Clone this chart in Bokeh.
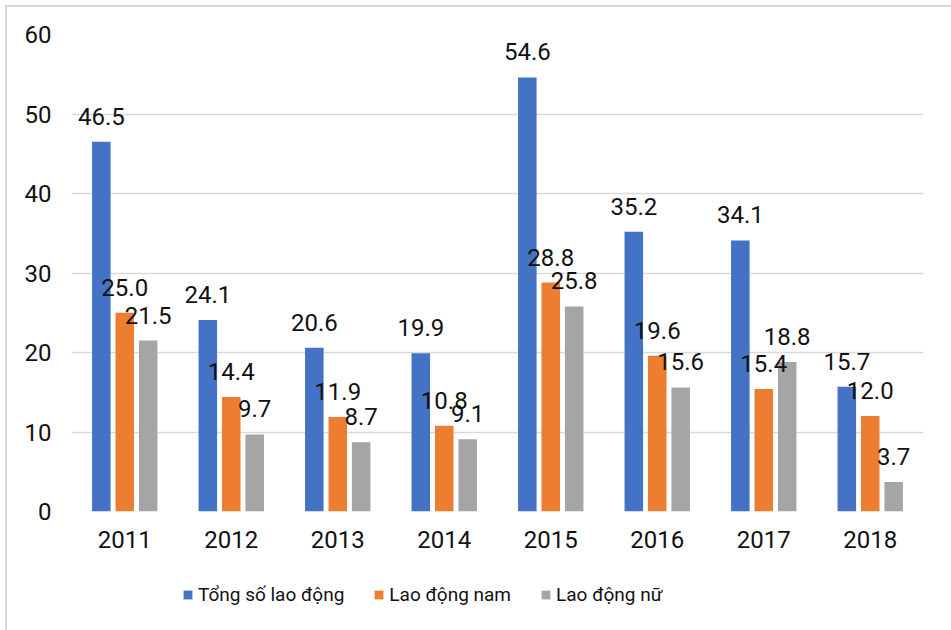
from bokeh.plotting import figure
from bokeh.models import ColumnDataSource, LabelSet, Legend, LegendItem, FactorRange
from bokeh.layouts import column
from bokeh.transform import dodge
from bokeh.core.properties import value
from bokeh.embed import file_html
from bokeh.resources import INLINE

years = ["2011", "2012", "2013", "2014", "2015", "2016", "2017", "2018"]
tong_so = [46.5, 24.1, 20.6, 19.9, 54.6, 35.2, 34.1, 15.7]
nam = [25.0, 14.4, 11.9, 10.8, 28.8, 19.6, 15.4, 12.0]
nu = [21.5, 9.7, 8.7, 9.1, 25.8, 15.6, 18.8, 3.7]
series_names = ["Tổng số lao động", "Lao động nam", "Lao động nữ"]
y_ticks = [0, 10, 20, 30, 40, 50, 60]

colors = ["#4472C4", "#ED7D31", "#A5A5A5"]
FONT = "Roboto"
FS = "24px"
TXT = "#111111"

source = ColumnDataSource(dict(
    year=years,
    tong=tong_so, nam=nam, nu=nu,
    tong_lbl=[f"{v:.1f}" for v in tong_so],
    nam_lbl=[f"{v:.1f}" for v in nam],
    nu_lbl=[f"{v:.1f}" for v in nu],
))

p = figure(
    x_range=FactorRange(*years, range_padding=0),
    y_range=(0, 60),
    width=944, height=560,
    output_backend="svg", toolbar_location=None,
    min_border_left=64, min_border_right=28,
    min_border_top=27, min_border_bottom=56,
    outline_line_color=None,
    background_fill_color="white", border_fill_color="white",
)

offset = 0.22
width = 0.174
fields = ["tong", "nam", "nu"]
for i, (f, c) in enumerate(zip(fields, colors)):
    p.vbar(x=dodge("year", (i - 1) * offset, range=p.x_range), top=f,
           width=width, source=source, fill_color=c, line_color=None)
    labels = LabelSet(x=dodge("year", (i - 1) * offset, range=p.x_range), y=f,
                      text=f + "_lbl", source=source, text_align="center",
                      text_baseline="alphabetic", y_offset=17,
                      text_font=value(FONT), text_font_size=FS, text_color=TXT)
    p.add_layout(labels)

# axes
p.yaxis.ticker = y_ticks
p.yaxis.axis_line_color = None
p.yaxis.major_tick_line_color = None
p.yaxis.minor_tick_line_color = None
p.yaxis.major_label_standoff = 14
p.yaxis.major_label_text_font = FONT
p.yaxis.major_label_text_font_size = FS
p.yaxis.major_label_text_color = TXT

p.xaxis.axis_line_color = None
p.xaxis.major_tick_line_color = None
p.xaxis.minor_tick_line_color = None
p.xaxis.major_label_standoff = 13
p.xaxis.major_label_text_font = FONT
p.xaxis.major_label_text_font_size = FS
p.xaxis.major_label_text_color = TXT

p.xgrid.grid_line_color = None
p.ygrid.grid_line_color = "#d9d9d9"
p.ygrid.grid_line_width = 1.5

# legend strip under the chart
leg = figure(
    width=944, height=63, x_range=(0, 1), y_range=(0, 1),
    output_backend="svg", toolbar_location=None,
    x_axis_location=None, y_axis_location=None,
    min_border=0, min_border_left=0, min_border_right=0,
    min_border_top=0, min_border_bottom=0,
    outline_line_color=None,
    background_fill_color="white", border_fill_color="white",
)
leg.grid.grid_line_color = None
swatch_src = ColumnDataSource(dict(x=[0.5], top=[0.0]))
swatches = [leg.vbar(x="x", top="top", width=0.01, source=swatch_src,
                     fill_color=c, line_color=None) for c in colors]

legend = Legend(
    items=[LegendItem(label=n, renderers=[r]) for n, r in zip(series_names, swatches)],
    orientation="horizontal",
    location=(111, 23),
    glyph_width=11, glyph_height=11, label_standoff=5, spacing=29,
    label_height=26,
    label_text_font=FONT, label_text_font_size="19px", label_text_color=TXT,
    border_line_color=None, background_fill_alpha=0,
    padding=0, margin=0,
)
leg.add_layout(legend, "center")

layout = column(p, leg, spacing=0, margin=(5, 0, 0, 5),
                styles={"border-top": "2px solid #d9d9d9",
                        "border-left": "2px solid #d9d9d9"})

open("out.html", "w").write(file_html(layout, INLINE))
